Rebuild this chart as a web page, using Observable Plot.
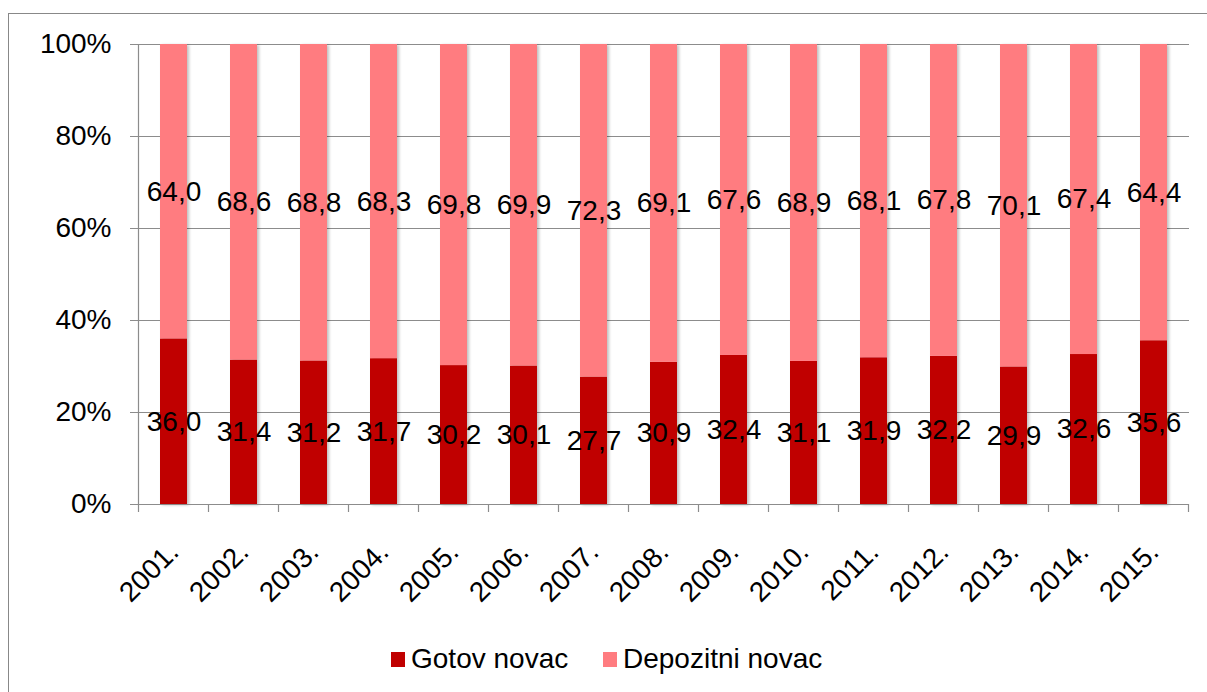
<!DOCTYPE html>
<html>
<head>
<meta charset="utf-8">
<script src="https://cdn.jsdelivr.net/npm/d3@7"></script>
<script src="https://cdn.jsdelivr.net/npm/@observablehq/plot@0.6"></script>
<style>
  html, body { margin: 0; padding: 0; background: #fff; width: 1207px; height: 692px; overflow: hidden; }
  #frame { position: absolute; left: 8px; top: 13px; width: 1210px; height: 700px; border: 1.5px solid #888; box-sizing: border-box; }
  #chart { position: absolute; left: 0; top: 0; }
  #legend { position: absolute; left: 0; top: 643px; width: 1207px; font-family: "Liberation Sans", Arial, sans-serif; font-size: 28px; color: #000; }
  .item { position: absolute; display: flex; align-items: center; white-space: nowrap; }
  .sw { width: 14px; height: 15px; margin-right: 6px; }
</style>
</head>
<body>
<div id="frame"></div>
<div id="chart"></div>
<div id="legend"></div>
<svg width="0" height="0" style="position:absolute">
  <defs>
    <filter id="shadow" x="-20%" y="-5%" width="140%" height="110%">
      <feDropShadow dx="2" dy="1" stdDeviation="1.5" flood-color="#000" flood-opacity="0.25"/>
    </filter>
  </defs>
</svg>
<script>
const years = ["2001.","2002.","2003.","2004.","2005.","2006.","2007.","2008.","2009.","2010.","2011.","2012.","2013.","2014.","2015."];
const gotov = [36.0, 31.4, 31.2, 31.7, 30.2, 30.1, 27.7, 30.9, 32.4, 31.1, 31.9, 32.2, 29.9, 32.6, 35.6];
const depozitni = [64.0, 68.6, 68.8, 68.3, 69.8, 69.9, 72.3, 69.1, 67.6, 68.9, 68.1, 67.8, 70.1, 67.4, 64.4];
const seriesNames = ["Gotov novac", "Depozitni novac"];
const seriesColors = ["#C00000", "#FF7C80"];
const yTicks = [0, 20, 40, 60, 80, 100];

const data = years.flatMap((y, i) => [
  {year: y, series: seriesNames[0], value: gotov[i]},
  {year: y, series: seriesNames[1], value: depozitni[i]}
]);

const fmt = v => v.toFixed(1).replace(".", ",");
const grey = "#8c8c8c";

const plot = Plot.plot({
  width: 1207,
  height: 620,
  marginLeft: 138,
  marginRight: 18,
  marginTop: 44,
  marginBottom: 116,
  x: {domain: years, paddingInner: 0.61, paddingOuter: 0.305},
  y: {domain: [0, 100]},
  color: {domain: seriesNames, range: seriesColors},
  style: {fontFamily: "'Liberation Sans', Arial, sans-serif", fontSize: "28px", color: "#000", background: "transparent", overflow: "visible"},
  marks: [
    Plot.gridY(yTicks, {stroke: grey, strokeOpacity: 1, strokeWidth: 1.2}),
    Plot.axisY(yTicks, {tickFormat: d => d + "%", tickSize: 8, tickPadding: 19, fontSize: 28, stroke: grey, fill: "#000", label: null}),
    Plot.axisX({tickRotate: -45, tickSize: 0, tickPadding: 43, dx: 0, fontSize: 28, fill: "#000", label: null}),
    Plot.barY(data, {x: "year", y: "value", fill: "series", z: "series"}),
    Plot.ruleY([0], {stroke: grey, strokeWidth: 1.2}),
    Plot.text(data, Plot.stackY({x: "year", y: "value", z: "series", text: d => fmt(d.value), fontSize: 28, fill: "#000"}))
  ]
});

document.getElementById("chart").appendChild(plot);

const svg = d3.select(plot);
svg.selectAll("g[aria-label='bar']").attr("filter", "url(#shadow)");

// Category boundary ticks and left axis line, positioned by the Plot scales
const xs = plot.scale("x");
const ys = plot.scale("y");
const step = xs.step, bw = xs.bandwidth;
const y0 = ys.apply(0), y100 = ys.apply(100);
const g = svg.append("g").attr("stroke", grey).attr("stroke-width", 1.2);
const bounds = years.map(y => xs.apply(y) + bw / 2 - step / 2);
bounds.push(xs.apply(years[years.length - 1]) + bw / 2 + step / 2);
bounds.forEach(b => g.append("line").attr("x1", b).attr("x2", b).attr("y1", y0).attr("y2", y0 + 8));
g.append("line").attr("x1", bounds[0]).attr("x2", bounds[0]).attr("y1", y100).attr("y2", y0);

// Legend
const legend = document.getElementById("legend");
const lx = [391, 603];
seriesNames.forEach((s, i) => {
  const it = document.createElement("div");
  it.className = "item";
  it.style.left = lx[i] + "px";
  it.innerHTML = `<span class="sw" style="background:${seriesColors[i]}"></span><span>${s}</span>`;
  legend.appendChild(it);
});
</script>
</body>
</html>
